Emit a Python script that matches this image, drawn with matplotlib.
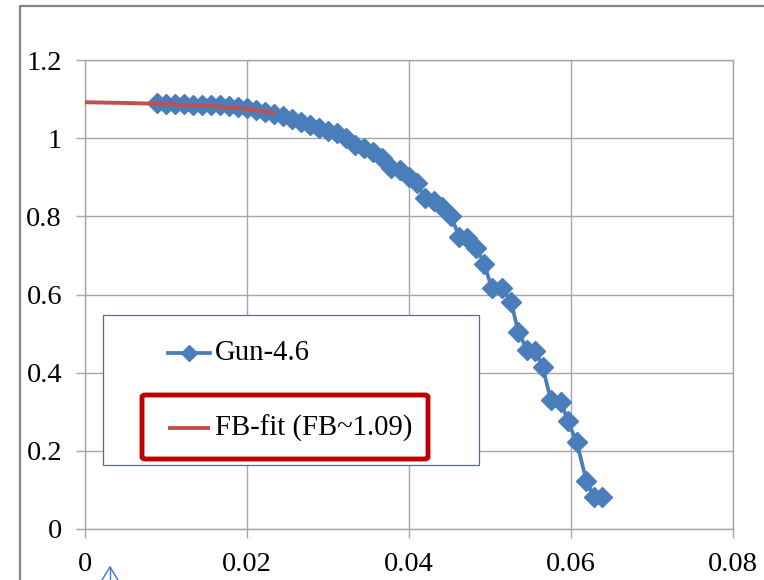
import matplotlib
matplotlib.use("Agg")
import matplotlib.pyplot as plt
from matplotlib.lines import Line2D
from matplotlib.patches import Rectangle, FancyBboxPatch

plt.rcParams['font.family'] = ['Liberation Serif', 'DejaVu Serif']

# ---- data ----
gun_x = [0.0089, 0.0100, 0.0111, 0.0122, 0.0133, 0.0144, 0.0156, 0.0167, 0.0178, 0.0189,
         0.0200, 0.0211, 0.0222, 0.0233, 0.0244, 0.0256, 0.0267, 0.0278, 0.0289, 0.0300,
         0.0311, 0.0322, 0.0333, 0.0344, 0.0356, 0.0367, 0.0378, 0.0389, 0.0400, 0.0410,
         0.0420, 0.0431, 0.0441, 0.0452, 0.0462, 0.0472, 0.0483, 0.0493, 0.0502, 0.0515,
         0.0526, 0.0535, 0.0546, 0.0556, 0.0565, 0.0575, 0.0588, 0.0596, 0.0607, 0.0619,
         0.0628, 0.0638]
gun_y = [1.090, 1.0875, 1.0875, 1.0875, 1.086, 1.085, 1.085, 1.084, 1.082, 1.080,
         1.077, 1.072, 1.067, 1.062, 1.057, 1.049, 1.041, 1.034, 1.026, 1.018,
         1.013, 1.000, 0.983, 0.975, 0.965, 0.949, 0.924, 0.919, 0.901, 0.885,
         0.847, 0.839, 0.824, 0.801, 0.747, 0.745, 0.719, 0.678, 0.617, 0.617,
         0.581, 0.504, 0.458, 0.456, 0.415, 0.330, 0.325, 0.276, 0.223, 0.123,
         0.082, 0.082]
fit_x = [0.0, 0.005, 0.009, 0.014, 0.018, 0.020, 0.0235]
fit_y = [1.092, 1.090, 1.088, 1.084, 1.079, 1.075, 1.064]

x_ticks = [0, 0.02, 0.04, 0.06, 0.08]
x_labels = ['0', '0.02', '0.04', '0.06', '0.08']
y_ticks = [0, 0.2, 0.4, 0.6, 0.8, 1.0, 1.2]
y_labels = ['0', '0.2', '0.4', '0.6', '0.8', '1', '1.2']
series_labels = ['Gun-4.6', 'FB-fit (FB~1.09)']

W, H = 764, 580
fig = plt.figure(figsize=(W / 100, H / 100), dpi=100)

def fx(px):
    return px / W

def fy(py):
    return 1 - py / H

ax = fig.add_axes([fx(85), fy(529), (733 - 85) / W, (529 - 60) / H])

grid_c = '#A6A6A6'
blue = '#4A7EBB'
red = '#C0504D'

ax.plot(gun_x, gun_y, color=blue, lw=2.7, marker='D', ms=10,
        markerfacecolor=blue, markeredgecolor=blue, zorder=3)
ax.plot(fit_x, fit_y, color=red, lw=2.8, zorder=4, solid_capstyle='butt')

ax.set_xlim(0, 0.08)
ax.set_ylim(0, 1.2)
ax.set_xticks(x_ticks)
ax.set_xticklabels(x_labels)
ax.set_yticks(y_ticks)
ax.set_yticklabels(y_labels)
ax.grid(True, color=grid_c, lw=1.0)
ax.set_axisbelow(True)
for s in ax.spines.values():
    s.set_color(grid_c)
    s.set_linewidth(1.0)
ax.tick_params(axis='both', direction='out', length=6.5, width=1.0, color=grid_c,
               labelsize=20.5, labelcolor='black', pad=10)

# outer chart-area border
fig.add_artist(Line2D([fx(20), fx(20), fx(770)], [fy(590), fy(6), fy(6)],
                      color='#868686', lw=1.6))

# legend (manual)
fig.add_artist(Rectangle((fx(103), fy(465)), (479 - 103) / W, (465 - 315) / H,
                         facecolor='white', edgecolor='#5A6E8C', lw=0.9, zorder=5))
fig.add_artist(Line2D([fx(168), fx(210)], [fy(353), fy(353)], color=blue, lw=2.7,
                      zorder=6))
fig.add_artist(Line2D([fx(189)], [fy(353)], color=blue, marker='D', ms=8.5, lw=0,
                      zorder=6))
fig.text(fx(215), fy(353), series_labels[0], fontsize=20.7, va='center', ha='left',
         zorder=6)
fig.add_artist(Line2D([fx(168), fx(210)], [fy(428), fy(428)], color=red, lw=2.8,
                      zorder=6, solid_capstyle='butt'))
fig.text(fx(215), fy(428), series_labels[1], fontsize=20.7, va='center', ha='left',
         zorder=6)

# red highlight box
fig.add_artist(FancyBboxPatch((fx(142), fy(459)), (428 - 142) / W, (459 - 395) / H,
                              boxstyle='round,pad=0,rounding_size=0.004',
                              facecolor='none', edgecolor='#C00000', lw=3.5, zorder=7))

# small blue arrow at the bottom
fig.add_artist(Line2D([fx(110), fx(110)], [fy(567), fy(585)], color='#4472C4', lw=1.0))
fig.add_artist(Line2D([fx(102), fx(110), fx(118)], [fy(580), fy(567), fy(580)],
                      color='#4472C4', lw=1.0))

fig.savefig('out.png', dpi=100)
